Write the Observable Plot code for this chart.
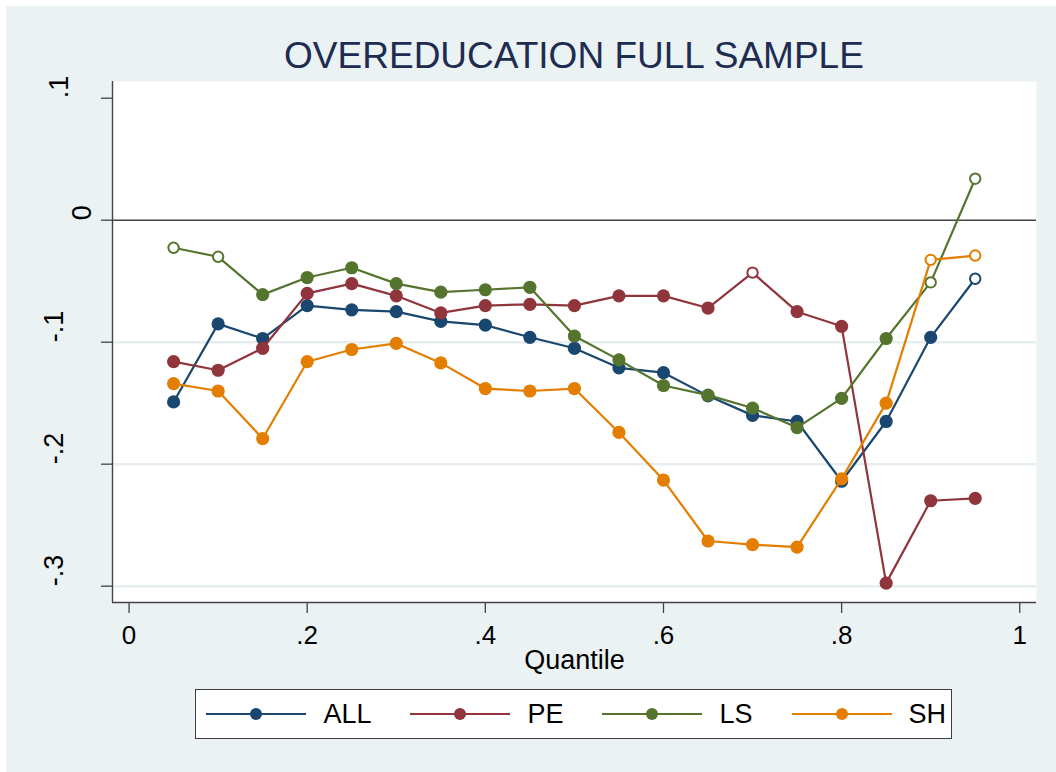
<!DOCTYPE html>
<html>
<head>
<meta charset="utf-8">
<script src="https://cdn.jsdelivr.net/npm/d3@7"></script>
<script src="https://cdn.jsdelivr.net/npm/@observablehq/plot@0.6"></script>
<style>
html, body { margin: 0; padding: 0; background: #ffffff; }
#wrap { position: relative; width: 1056px; height: 772px; overflow: hidden;
  font-family: "Liberation Sans", Arial, Helvetica, sans-serif; }
#bg { position: absolute; left: 6px; top: 6px; right: 0; bottom: 0; background: #eaf2f3; }
#title { position: absolute; left: 112px; width: 924px; top: 37px; height: 37px; line-height: 37px;
  font-size: 37px; text-align: center; color: #1e2c52; white-space: nowrap; }
#chart { position: absolute; left: 0; top: 76px; }
#legend { position: absolute; left: 195px; top: 689px; width: 757px; height: 50px; box-sizing: border-box;
  background: #ffffff; border: 1.3px solid #3c3c3c; display: flex; align-items: center; padding-left: 10.4px; }
#legend .item { display: flex; align-items: center; }
#legend svg { display: block; }
#legend span { font-size: 27px; line-height: 27px; color: #000; margin-left: 17px; margin-right: 39px; }
</style>
</head>
<body>
<div id="wrap">
  <div id="bg"></div>
  <div id="title">OVEREDUCATION FULL SAMPLE</div>
  <div id="chart"></div>
  <div id="legend"></div>
</div>
<script>
// ---- data ----
const quantiles = [0.05, 0.10, 0.15, 0.20, 0.25, 0.30, 0.35, 0.40, 0.45, 0.50,
                   0.55, 0.60, 0.65, 0.70, 0.75, 0.80, 0.85, 0.90, 0.95];
const seriesNames = ["ALL", "PE", "LS", "SH"];
const ALL = [-0.149, -0.085, -0.097, -0.070, -0.0735, -0.075, -0.083, -0.086, -0.096, -0.105,
             -0.121, -0.125, -0.144, -0.160, -0.165, -0.214, -0.165, -0.096, -0.048];
const PE  = [-0.116, -0.123, -0.105, -0.060, -0.052, -0.062, -0.076, -0.070, -0.069, -0.070,
             -0.062, -0.062, -0.072, -0.043, -0.075, -0.087, -0.2975, -0.230, -0.228];
const LS  = [-0.0226, -0.030, -0.061, -0.047, -0.039, -0.052, -0.059, -0.057, -0.055, -0.095,
             -0.1145, -0.1355, -0.1434, -0.154, -0.170, -0.146, -0.097, -0.051, 0.034];
const SH  = [-0.134, -0.140, -0.179, -0.116, -0.106, -0.101, -0.117, -0.138, -0.140, -0.138,
             -0.174, -0.213, -0.263, -0.266, -0.268, -0.212, -0.150, -0.0325, -0.029];
// 1 = significant (filled marker), 0 = not significant (hollow marker)
const ALLsig = [1,1,1,1,1,1,1,1,1,1,1,1,1,1,1,1,1,1,0];
const PEsig  = [1,1,1,1,1,1,1,1,1,1,1,1,1,0,1,1,1,1,1];
const LSsig  = [0,0,1,1,1,1,1,1,1,1,1,1,1,1,1,1,1,0,0];
const SHsig  = [1,1,1,1,1,1,1,1,1,1,1,1,1,1,1,1,1,0,0];

const xTicks = [0, 0.2, 0.4, 0.6, 0.8, 1];
const xTickLabels = ["0", ".2", ".4", ".6", ".8", "1"];
const yTicks = [0.1, 0, -0.1, -0.2, -0.3];
const yTickLabels = [".1", "0", "-.1", "-.2", "-.3"];
const gridY = [-0.1, -0.2, -0.3];
const xTitle = "Quantile";

// ---- styles ----
const palette = ["#1a476f", "#90353b", "#55752f", "#e37e00"];
const values = [ALL, PE, LS, SH];
const sigs = [ALLsig, PEsig, LSsig, SHsig];

const rows = [];
seriesNames.forEach((s, k) => quantiles.forEach((q, i) =>
  rows.push({series: s, q, v: values[k][i], sig: sigs[k][i] === 1})));

const xDomain = [-0.0186, 1.0188];
const yDomain = [-0.3134, 0.1137];
const axisColor = "#444444";
const font = "'Liberation Sans', Arial, Helvetica, sans-serif";

const marks = [
  Plot.frame({fill: "white", stroke: "none"}),
  Plot.ruleY(gridY, {y: d => d, stroke: "#e6eef0", strokeWidth: 2.5}),
  Plot.ruleY([0], {stroke: axisColor, strokeWidth: 1.4}),
  Plot.ruleX([xDomain[0]], {stroke: axisColor, strokeWidth: 1.4}),
  Plot.ruleY([yDomain[0]], {stroke: axisColor, strokeWidth: 1.4}),
  Plot.axisX({ticks: xTicks, tickSize: 11, fill: "none", stroke: axisColor, strokeWidth: 1.3}),
  Plot.axisY({ticks: yTicks, tickSize: 11, fill: "none", stroke: axisColor, strokeWidth: 1.3}),
  Plot.text(xTicks, {x: d => d, text: (d, i) => xTickLabels[i], frameAnchor: "bottom",
    lineAnchor: "bottom", dy: 41, fontSize: 26, fill: "black"}),
  Plot.text([0], {y: d => d, text: () => "0", frameAnchor: "left", rotate: -90,
    dx: -30.5, fontSize: 27, fill: "black"}),
  Plot.text([0.1], {y: d => d, text: () => ".1", frameAnchor: "left", rotate: -90,
    dx: -52.7, fontSize: 27, fill: "black"}),
  Plot.text(yTicks.filter(d => d < 0), {y: d => d,
    text: d => yTickLabels[yTicks.indexOf(d)], frameAnchor: "left", rotate: -90,
    dx: -58, fontSize: 27, fill: "black"}),
  Plot.text([xTitle], {text: d => d, frameAnchor: "bottom", lineAnchor: "bottom", dy: 66,
    fontSize: 27, fill: "black"})
];

seriesNames.forEach((s, k) => {
  const data = rows.filter(r => r.series === s);
  marks.push(Plot.line(data, {x: "q", y: "v", stroke: palette[k], strokeWidth: 2.2}));
  marks.push(Plot.dot(data.filter(r => r.sig), {x: "q", y: "v", r: 6.6, fill: palette[k], stroke: "none"}));
  marks.push(Plot.dot(data.filter(r => !r.sig), {x: "q", y: "v", r: 5.2, fill: "white",
    stroke: palette[k], strokeWidth: 2}));
});

const chart = Plot.plot({
  width: 1056,
  height: 604,
  marginLeft: 112,
  marginRight: 20,
  marginTop: 5,
  marginBottom: 78,
  x: {domain: xDomain, axis: null},
  y: {domain: yDomain, axis: null},
  style: {background: "none", fontFamily: font, fontSize: "26px", color: "black", overflow: "visible"},
  marks
});
document.getElementById("chart").appendChild(chart);

// ---- legend ----
const legend = d3.select("#legend");
seriesNames.forEach((s, k) => {
  const item = legend.append("div").attr("class", "item");
  const sw = item.append("svg").attr("width", 100).attr("height", 20);
  sw.append("line").attr("x1", 0).attr("x2", 100).attr("y1", 10).attr("y2", 10)
    .attr("stroke", palette[k]).attr("stroke-width", 2);
  sw.append("circle").attr("cx", 50).attr("cy", 10).attr("r", 6).attr("fill", palette[k]);
  item.append("span").text(s);
});
</script>
</body>
</html>
